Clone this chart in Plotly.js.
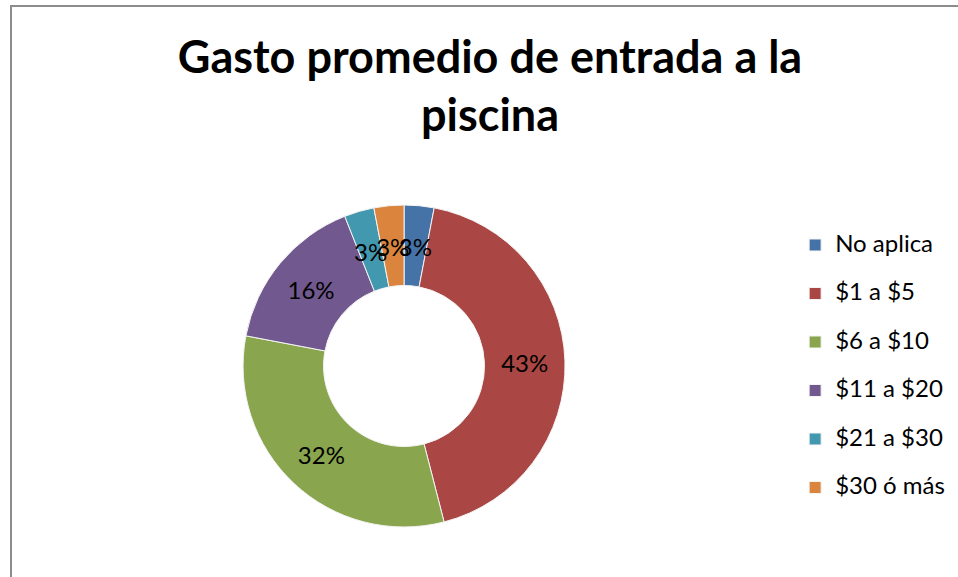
<!DOCTYPE html>
<html>
<head>
<meta charset="utf-8">
<script src="https://cdn.plot.ly/plotly-3.0.1.min.js"></script>
<style>
  html, body { margin: 0; padding: 0; background: #ffffff; }
  #wrap { position: relative; width: 958px; height: 577px; overflow: hidden; }
  #chart { position: absolute; left: 0; top: 0; width: 958px; height: 577px; }
  #frame {
    position: absolute; left: 10px; top: 5px; right: -4px; bottom: -4px;
    border-left: 2px solid #8c8c8c; border-top: 2px solid #8c8c8c;
    pointer-events: none;
  }
</style>
</head>
<body>
<div id="wrap">
  <div id="chart"></div>
  <div id="frame"></div>
</div>
<script>
// Gasto promedio de entrada a la piscina - donut chart

const categories = ["No aplica", "$1 a $5", "$6 a $10", "$11 a $20", "$21 a $30", "$30 ó más"];
const percentages = [3, 43, 32, 16, 3, 3];
const sliceColors = ["#4572A7", "#AA4643", "#89A54E", "#71588F", "#4198AF", "#DB843D"];

const FONT = "Lato, 'Open Sans', sans-serif";
const SMALL = 10; // slices under this % get their label from the inner helper ring

// legend rows are spaced wider than the text, so the label is nudged
// back up next to its swatch
function legendLabel(name) {
    return '<span style="font-size:17px"><sup><span style="font-size:24px">' +
        name + '</span></sup></span>';
}

const bigText = percentages.map(v => v >= SMALL ? "%{percent:.0%}" : "");
const smallText = percentages.map(v => v < SMALL ? "%{percent:.0%}" : "");

const data = [
    {
        type: "pie",
        labels: categories.map(legendLabel),
        values: percentages,
        sort: false,
        direction: "clockwise",
        rotation: 0,
        hole: 0.5,
        texttemplate: bigText,
        textposition: "inside",
        insidetextorientation: "horizontal",
        textfont: { family: FONT, size: 24, color: "#000000" },
        marker: {
            colors: sliceColors,
            line: { color: "#f4f4f4", width: 1 }
        },
        hoverinfo: "none",
        domain: { x: [0.2537, 0.5898], y: [0.0867, 0.6447] }
    },
    {
        // transparent copy, only used to place the labels of the thin slices mid-ring
        type: "pie",
        labels: categories,
        values: percentages,
        sort: false,
        direction: "clockwise",
        rotation: 0,
        texttemplate: smallText,
        textposition: "inside",
        insidetextorientation: "horizontal",
        textfont: { family: FONT, size: 24, color: "#000000" },
        marker: {
            colors: percentages.map(() => "rgba(0,0,0,0)"),
            line: { width: 0 }
        },
        hoverinfo: "none",
        showlegend: false,
        domain: { x: [0.2850, 0.5585], y: [0.1386, 0.5927] }
    }
];

const layout = {
    width: 958,
    height: 577,
    paper_bgcolor: "#ffffff",
    plot_bgcolor: "#ffffff",
    margin: { l: 0, r: 0, t: 0, b: 0 },
    font: { family: FONT, color: "#000000" },
    title: {
        text: "<b>Gasto promedio de entrada a la<br>piscina</b>",
        font: { family: FONT, size: 45, color: "#000000" },
        x: 0.5115,
        xanchor: "center",
        y: 0.874,
        yanchor: "top",
        yref: "container"
    },
    showlegend: true,
    legend: {
        x: 0.83,
        xanchor: "left",
        y: 0.6261,
        yanchor: "top",
        font: { size: 35, color: "#000000" },
        bgcolor: "rgba(0,0,0,0)",
        traceorder: "normal"
    },
    uniformtext: { minsize: 24, mode: "show" }
};

const config = { staticPlot: true, displayModeBar: false };

Plotly.newPlot("chart", data, layout, config);
</script>
</body>
</html>
